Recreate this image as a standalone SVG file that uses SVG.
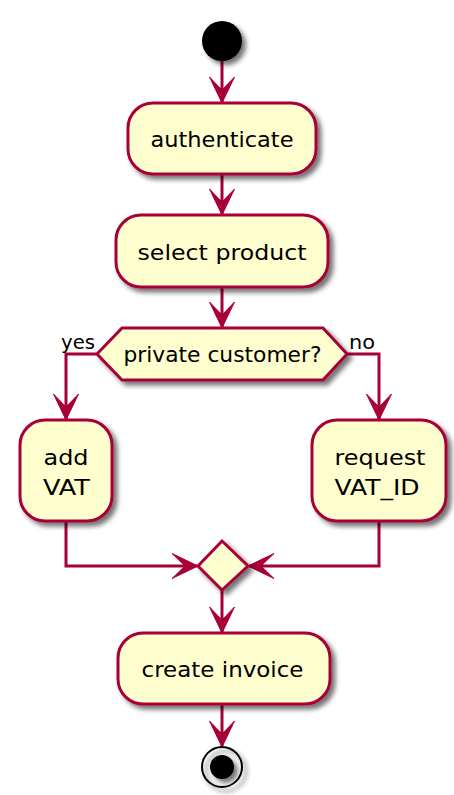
<svg xmlns="http://www.w3.org/2000/svg" width="454" height="795" viewBox="0 0 454 795">
<style>
.node{fill:#FEFECE;stroke:#A80036;stroke-width:3}
.t{font-family:"DejaVu Sans",sans-serif;font-size:22px;fill:#000;text-anchor:middle}
.lbl{font-family:"DejaVu Sans",sans-serif;font-size:19px;fill:#000}
.edge{fill:none;stroke:#A80036;stroke-width:3;marker-end:url(#ah)}
.edge2{fill:none;stroke:#A80036;stroke-width:3}
</style>
<defs>
<filter id="sh" x="-30%" y="-30%" width="160%" height="160%">
<feGaussianBlur in="SourceAlpha" stdDeviation="2.5"/>
<feOffset dx="4" dy="4" result="b"/>
<feComponentTransfer><feFuncA type="linear" slope="0.55"/></feComponentTransfer>
<feMerge><feMergeNode/><feMergeNode in="SourceGraphic"/></feMerge>
</filter>
<marker id="ah" viewBox="0 0 26 25" markerWidth="26" markerHeight="25" refX="25" refY="12.5" orient="auto" markerUnits="userSpaceOnUse" overflow="visible">
<path d="M26,12.5 L0,0 L13,12.5 L0,25 Z" fill="#A80036" stroke="#A80036" stroke-width="1" stroke-linejoin="miter"/>
</marker>
</defs>
<g id="connectors">
<path class="edge" d="M222,61 L222,102"/>
<path class="edge" d="M222,174 L222,214"/>
<path class="edge" d="M222,287 L222,327"/>
<path class="edge" d="M97,354 L66,354 L66,419"/>
<path class="edge" d="M347,354 L379,354 L379,419"/>
<path class="edge" d="M66,521 L66,566 L197,566"/>
<path class="edge" d="M379,521 L379,566 L249,566"/>
<path class="edge" d="M222,590 L222,632"/>
<path class="edge" d="M222,704 L222,746"/>
<text class="lbl" x="61" y="349" textLength="34" lengthAdjust="spacingAndGlyphs">yes</text>
<text class="lbl" x="349" y="349" textLength="26" lengthAdjust="spacingAndGlyphs">no</text>
</g>
<g id="start"><circle cx="222" cy="41" r="20" fill="#000" filter="url(#sh)"/></g>
<g id="authenticate">
<rect class="node" x="128" y="103" width="188" height="71" rx="25" filter="url(#sh)"/>
<text class="t" x="222" y="147" textLength="143" lengthAdjust="spacingAndGlyphs">authenticate</text>
</g>
<g id="select_product">
<rect class="node" x="116" y="215" width="212" height="72" rx="25" filter="url(#sh)"/>
<text class="t" x="222" y="260" textLength="169" lengthAdjust="spacingAndGlyphs">select product</text>
</g>
<g id="private_customer">
<polygon class="node" points="97,354 122,328 323,328 347,354 323,380 122,380" filter="url(#sh)"/>
<text class="t" x="222.5" y="362" textLength="198" lengthAdjust="spacingAndGlyphs">private customer?</text>
</g>
<g id="add_vat">
<rect class="node" x="20" y="420" width="92" height="101" rx="25" filter="url(#sh)"/>
<text class="t" x="66" y="465" textLength="45" lengthAdjust="spacingAndGlyphs">add</text>
<text class="t" x="66.5" y="495" textLength="47" lengthAdjust="spacingAndGlyphs">VAT</text>
</g>
<g id="request_vat_id">
<rect class="node" x="312" y="420" width="134" height="101" rx="25" filter="url(#sh)"/>
<text class="t" x="380" y="465" textLength="91" lengthAdjust="spacingAndGlyphs">request</text>
<text class="t" x="377" y="495" textLength="85" lengthAdjust="spacingAndGlyphs">VAT_ID</text>
</g>
<g id="merge">
<polygon class="node" points="222,541 248,566 222,590 198,566" filter="url(#sh)"/>
</g>
<g id="create_invoice">
<rect class="node" x="118" y="633" width="212" height="71" rx="25" filter="url(#sh)"/>
<text class="t" x="222.5" y="677" textLength="162" lengthAdjust="spacingAndGlyphs">create invoice</text>
</g>
<g id="end">
<circle cx="222" cy="767" r="20" fill="none" stroke="#000" stroke-width="2" filter="url(#sh)"/>
<circle cx="222" cy="767" r="12" fill="#000" filter="url(#sh)"/>
</g>
</svg>
